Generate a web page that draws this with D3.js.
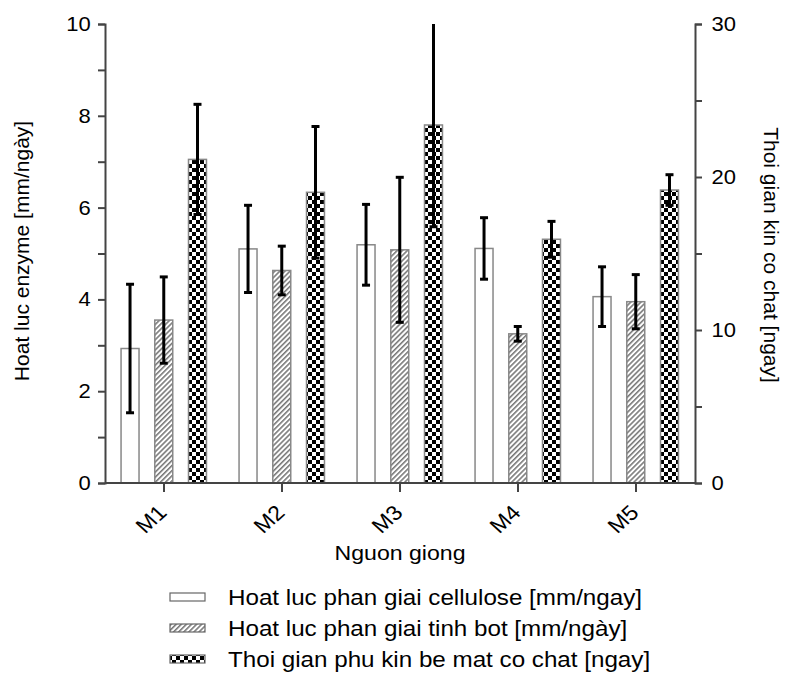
<!DOCTYPE html>
<html>
<head>
<meta charset="utf-8">
<script src="https://cdn.jsdelivr.net/npm/d3@7"></script>
<style>
  body { margin: 0; background: #fff; }
  svg { font-family: "Liberation Sans", Arial, sans-serif; }
  .axis path, .axis line { stroke: #444; stroke-width: 2; }
  .axis text { fill: #000; }
</style>
</head>
<body>
<div class="app"></div>
<script>
'use strict'

var width = 785;
var height = 676;

// categories and series
var categories = ["M1", "M2", "M3", "M4", "M5"];
var seriesNames = [
  "Hoat luc phan giai cellulose [mm/ngay]",
  "Hoat luc phan giai tinh bot [mm/ngày]",
  "Thoi gian phu kin be mat co chat [ngay]"
];
// left axis (mm/ngay)
var cellulose = [2.93, 5.10, 5.19, 5.11, 4.06];
var celluloseErr = [1.40, 0.95, 0.88, 0.67, 0.65];
var starch = [3.55, 4.63, 5.08, 3.25, 3.95];
var starchErr = [0.94, 0.53, 1.58, 0.16, 0.59];
// right axis (ngay)
var coverDays = [21.15, 19.0, 23.4, 15.93, 19.15];
var coverDaysErr = [3.6, 4.3, 6.65, 1.17, 1.0];

var leftTicks = [0, 1, 2, 3, 4, 5, 6, 7, 8, 9, 10];
var rightTicks = [0, 5, 10, 15, 20, 25, 30];

var plotLeft = 105, plotRight = 695, plotTop = 24, plotBottom = 483;
var sx = 1.1; // text is a little wider than tall in the picture

var svg = d3.select(".app")
  .append("svg")
  .attr("width", width)
  .attr("height", height);

var defs = svg.append("defs");

// hatch pattern
var hatch = defs.append("pattern")
  .attr("id", "hatch")
  .attr("patternUnits", "userSpaceOnUse")
  .attr("width", 3.6)
  .attr("height", 6)
  .attr("patternTransform", "rotate(45)");
hatch.append("rect").attr("width", 3.6).attr("height", 6).attr("fill", "#fff");
hatch.append("line")
  .attr("x1", 0.8).attr("y1", 0).attr("x2", 0.8).attr("y2", 6)
  .attr("stroke", "#666").attr("stroke-width", 1.4);

// checker pattern
var checker = defs.append("pattern")
  .attr("id", "checker")
  .attr("patternUnits", "userSpaceOnUse")
  .attr("width", 8)
  .attr("height", 8);
checker.append("rect").attr("width", 8).attr("height", 8).attr("fill", "#fff");
checker.append("rect").attr("width", 4).attr("height", 4).attr("fill", "#000");
checker.append("rect").attr("x", 4).attr("y", 4).attr("width", 4).attr("height", 4).attr("fill", "#000");

var fills = ["#fff", "url(#hatch)", "url(#checker)"];

// scales
var x0 = d3.scaleBand()
  .domain(categories)
  .range([plotLeft, plotRight])
  .padding(0);

var bw = x0.bandwidth();
var x1 = d3.scaleBand()
  .domain([0, 1, 2])
  .range([bw * 0.136, bw * 0.86])
  .paddingInner(0.467)
  .paddingOuter(0);

var yLeft = d3.scaleLinear().domain([0, 10]).range([plotBottom, plotTop]);
var yRight = d3.scaleLinear().domain([0, 30]).range([plotBottom, plotTop]);

// bars data
var bars = [];
categories.forEach(function(c, i) {
  bars.push({cat: c, s: 0, v: cellulose[i], e: celluloseErr[i], y: yLeft});
  bars.push({cat: c, s: 1, v: starch[i], e: starchErr[i], y: yLeft});
  bars.push({cat: c, s: 2, v: coverDays[i], e: coverDaysErr[i], y: yRight});
});

var g = svg.append("g");

g.selectAll("rect.bar")
  .data(bars)
  .enter()
  .append("rect")
  .attr("class", "bar")
  .attr("x", function(d) { return x0(d.cat) + x1(d.s); })
  .attr("y", function(d) { return d.y(d.v); })
  .attr("width", x1.bandwidth())
  .attr("height", function(d) { return plotBottom - d.y(d.v); })
  .attr("fill", function(d) { return fills[d.s]; })
  .attr("stroke", "#888")
  .attr("stroke-width", 1.5);

// error bars
var capW = 4;
bars.forEach(function(d) {
  var cx = x0(d.cat) + x1(d.s) + x1.bandwidth() / 2;
  var top = d.v + d.e;
  var dmax = d.y.domain()[1];
  var clipped = top > dmax;
  if (clipped) top = dmax;
  var yt = d.y(top), yb = d.y(d.v - d.e);
  g.append("line")
    .attr("x1", cx).attr("x2", cx).attr("y1", yt).attr("y2", yb)
    .attr("stroke", "#000").attr("stroke-width", 3);
  if (!clipped) {
    g.append("line")
      .attr("x1", cx - capW).attr("x2", cx + capW).attr("y1", yt).attr("y2", yt)
      .attr("stroke", "#000").attr("stroke-width", 3);
  }
  g.append("line")
    .attr("x1", cx - capW).attr("x2", cx + capW).attr("y1", yb).attr("y2", yb)
    .attr("stroke", "#000").attr("stroke-width", 3);
});

// left axis
var leftAxis = d3.axisLeft(yLeft)
  .tickValues(leftTicks)
  .tickSize(7)
  .tickPadding(6)
  .tickFormat(function(d) { return d % 2 === 0 ? d : ""; });

var gl = svg.append("g")
  .attr("class", "axis")
  .attr("transform", "translate(" + plotLeft + ",0)")
  .call(leftAxis);
gl.selectAll("text")
  .attr("font-size", 20)
  .attr("transform", "scale(" + sx + ",1)");

// right axis
var rightAxis = d3.axisRight(yRight)
  .tickValues(rightTicks)
  .tickSize(7)
  .tickPadding(8)
  .tickFormat(function(d) { return d % 10 === 0 ? d : ""; });

var gr = svg.append("g")
  .attr("class", "axis")
  .attr("transform", "translate(" + plotRight + ",0)")
  .call(rightAxis);
gr.selectAll("text")
  .attr("font-size", 20)
  .attr("transform", "scale(" + sx + ",1)");

// bottom axis
var bottomAxis = d3.axisBottom(x0).tickSize(9).tickSizeOuter(0);
var gb = svg.append("g")
  .attr("class", "axis")
  .attr("transform", "translate(0," + plotBottom + ")")
  .call(bottomAxis);
gb.select("path.domain").attr("d", "M" + plotLeft + ",0H" + plotRight);
gb.selectAll("text")
  .attr("font-size", 21)
  .attr("y", 0).attr("dy", 0)
  .attr("text-anchor", "end")
  .attr("transform", "translate(4,31) scale(" + sx + ",1) rotate(-45)");

// axis titles
svg.append("text")
  .attr("transform", "translate(29," + 251 + ") rotate(-90)")
  .attr("text-anchor", "middle")
  .attr("font-size", 21)
  .text("Hoat luc enzyme [mm/ngày]");

svg.append("text")
  .attr("transform", "translate(764," + 255 + ") rotate(90)")
  .attr("text-anchor", "middle")
  .attr("font-size", 21)
  .text("Thoi gian kin co chat [ngay]");

svg.append("text")
  .attr("transform", "translate(400,560) scale(" + sx + ",1)")
  .attr("text-anchor", "middle")
  .attr("font-size", 21)
  .text("Nguon giong");

// legend
var legendY = [605, 636, 667];
var lg = svg.append("g");
seriesNames.forEach(function(name, i) {
  lg.append("rect")
    .attr("x", 170).attr("y", legendY[i] - 12)
    .attr("width", 35).attr("height", 8)
    .attr("fill", fills[i])
    .attr("stroke", "#666").attr("stroke-width", 1.2);
  lg.append("text")
    .attr("transform", "translate(228," + legendY[i] + ") scale(" + sx + ",1)")
    .attr("font-size", 22)
    .text(name);
});
</script>
</body>
</html>
